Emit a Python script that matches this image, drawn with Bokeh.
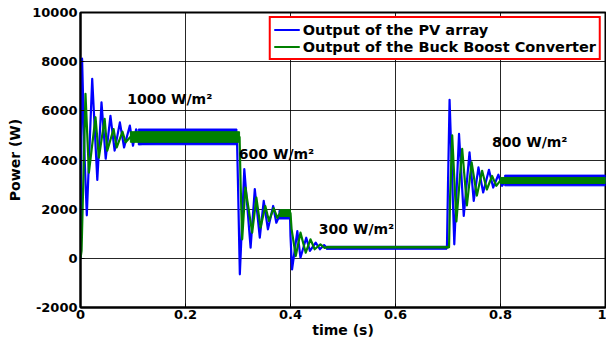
from bokeh.plotting import figure
from bokeh.models import Legend, LegendItem, FixedTicker
from bokeh.core.properties import value
from bokeh.embed import file_html
from bokeh.resources import INLINE

# ---- data ----
# PV array output (blue): transient peaks/troughs and steady-state centre points
pv_t = [0.0, 0.001, 0.003, 0.008, 0.012, 0.0223, 0.032, 0.040, 0.048, 0.057, 0.065,
        0.075, 0.083, 0.094, 0.100, 0.106, 0.112, 0.298,
        0.300, 0.3035, 0.312, 0.324, 0.332, 0.3415, 0.349, 0.357, 0.367, 0.373, 0.380, 0.399,
        0.400, 0.403, 0.413, 0.419, 0.430, 0.437, 0.448, 0.456, 0.464, 0.470, 0.698,
        0.700, 0.703, 0.712, 0.721, 0.730, 0.741, 0.749, 0.758, 0.767, 0.778, 0.786,
        0.796, 0.803, 0.810, 1.0]
pv_p = [0, 3000, 8120, 4000, 1750, 7300, 3190, 6350, 4050, 5800, 4380,
        5530, 4510, 5400, 4580, 5250, 4640, 4940,
        3000, -650, 3630, 430, 2815, 840, 2340, 1180, 2130, 1450, 1780, 1780,
        900, -450, 1110, 25, 840, 300, 640, 370, 540, 400, 430,
        3000, 6450, 570, 5060, 1725, 4310, 2340, 3700, 2680, 3600, 2880,
        3400, 2950, 3170, 3170]
# PV ripple bands (start, end, low, high)
pv_band_t0 = [0.110, 0.378, 0.468, 0.808]
pv_band_t1 = [0.298, 0.399, 0.698, 1.0]
pv_band_lo = [4620, 1600, 370, 2950]
pv_band_hi = [5260, 1950, 490, 3385]

# Buck-Boost converter output (green)
bb_t = [0.0, 0.002, 0.0095, 0.016, 0.0286, 0.035, 0.046, 0.051, 0.063, 0.069,
        0.080, 0.086, 0.095, 0.303,
        0.305, 0.308, 0.314, 0.327, 0.335, 0.343, 0.352, 0.359, 0.368, 0.375, 0.380, 0.400,
        0.402, 0.410, 0.419, 0.429, 0.438, 0.446, 0.457, 0.465, 0.470, 0.702,
        0.704, 0.708, 0.716, 0.727, 0.736, 0.745, 0.755, 0.765, 0.774, 0.784, 0.792,
        0.800, 1.0]
bb_p = [0, 300, 6690, 3490, 5740, 4100, 5670, 4380, 5260, 4510,
        5150, 4720, 4935, 4935,
        3000, 775, 2880, 1045, 2470, 1250, 2130, 1520, 2040, 1650, 1840, 1840,
        1200, 94, 1045, 230, 775, 370, 570, 420, 455, 455,
        2500, 5000, 1500, 4450, 2150, 3900, 2550, 3560, 2800, 3350, 2950,
        3170, 3170]
bb_band_t0 = [0.095, 0.380, 0.470, 0.800]
bb_band_t1 = [0.303, 0.400, 0.702, 1.0]
bb_band_lo = [4720, 1700, 425, 3045]
bb_band_hi = [5150, 1980, 485, 3290]

series_names = ["Output of the PV array", "Output of the Buck Boost Converter"]

ann_text = ["1000 W/m\u00b2", "600 W/m\u00b2", "300 W/m\u00b2", "800 W/m\u00b2"]
ann_x = [0.089, 0.3016, 0.454, 0.784]
ann_y = [6470, 4240, 1180, 4720]

x_ticks = [0, 0.2, 0.4, 0.6, 0.8, 1.0]
x_tick_labels = ["0", "0.2", "0.4", "0.6", "0.8", "1"]
y_ticks = [-2000, 0, 2000, 4000, 6000, 8000, 10000]
y_tick_labels = ["-2000", "0", "2000", "4000", "6000", "8000", "10000"]

FONT = "DejaVu Sans"
BLUE = "#0000ff"
GREEN = "#008000"

p = figure(width=606, height=340, x_range=(0, 1), y_range=(-2000, 10000),
           output_backend="svg", toolbar_location=None,
           min_border_left=80, min_border_right=1, min_border_top=12, min_border_bottom=33)

p.background_fill_color = "white"
p.border_fill_color = "white"
p.outline_line_color = "black"
p.outline_line_width = 2

# bands (ripple)
p.quad(left=pv_band_t0, right=pv_band_t1, bottom=pv_band_lo, top=pv_band_hi,
       fill_color=BLUE, line_color=BLUE, line_width=1)
r_pv = p.line(pv_t, pv_p, line_color=BLUE, line_width=2.2, line_join="round")
p.quad(left=bb_band_t0, right=bb_band_t1, bottom=bb_band_lo, top=bb_band_hi,
       fill_color=GREEN, line_color=GREEN, line_width=1)
r_bb = p.line(bb_t, bb_p, line_color=GREEN, line_width=2.2, line_join="round")

p.text(x=ann_x, y=ann_y, text=ann_text, text_font=value(FONT), text_font_style="bold",
       text_font_size="14px", text_baseline="middle", text_align="left", text_color="black")

# axes
for ax in (p.xaxis[0], p.yaxis[0]):
    ax.axis_line_color = "black"
    ax.axis_line_width = 2
    ax.major_tick_in = 4
    ax.major_tick_out = 0
    ax.minor_tick_line_color = None
    ax.major_label_text_font = FONT
    ax.major_label_text_font_style = "bold"
    ax.major_label_text_font_size = "13px"
    ax.major_label_text_color = "black"
    ax.axis_label_text_font = FONT
    ax.axis_label_text_font_style = "bold"
    ax.axis_label_text_font_size = "14px"
    ax.axis_label_text_color = "black"

p.xaxis.ticker = FixedTicker(ticks=x_ticks)
p.xaxis.major_label_overrides = {t: s for t, s in zip(x_ticks, x_tick_labels)}
p.yaxis.ticker = FixedTicker(ticks=y_ticks)
p.yaxis.major_label_overrides = {t: s for t, s in zip(y_ticks, y_tick_labels)}
p.xaxis.axis_label = "time (s)"
p.yaxis.axis_label = "Power (W)"
p.xaxis.major_label_standoff = 2
p.xaxis.axis_label_standoff = 0
p.yaxis.major_label_standoff = 3
p.yaxis.axis_label_standoff = 6

p.xgrid.grid_line_color = "black"
p.ygrid.grid_line_color = "black"
p.xgrid.grid_line_width = 1
p.ygrid.grid_line_width = 1
p.xgrid.grid_line_alpha = 0.85
p.ygrid.grid_line_alpha = 0.85

legend = Legend(items=[LegendItem(label=series_names[0], renderers=[r_pv]),
                       LegendItem(label=series_names[1], renderers=[r_bb])],
                location="top_right", margin=4, padding=3, spacing=0,
                glyph_width=26, glyph_height=17, label_height=17, label_standoff=3,
                border_line_color="#ff0000", border_line_width=2, border_line_alpha=1,
                background_fill_color="white", background_fill_alpha=1,
                label_text_font=FONT, label_text_font_style="bold",
                label_text_font_size="14.5px", label_text_color="black")
p.add_layout(legend)

open("out.html", "w").write(file_html(p, INLINE))
